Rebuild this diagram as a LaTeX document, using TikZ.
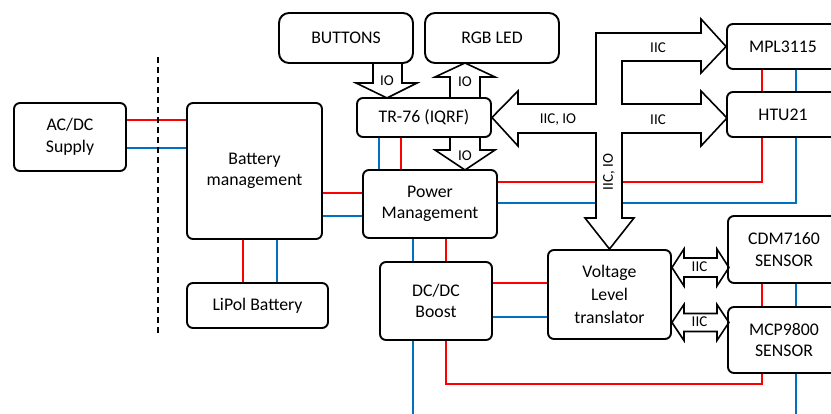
\documentclass[tikz,border=0pt]{standalone}
\usepackage{fontspec}
\setmainfont{Carlito}
\definecolor{pwrred}{RGB}{255,0,0}
\definecolor{gndblue}{RGB}{0,112,192}
\usetikzlibrary{positioning,calc,backgrounds}

\begin{document}
\begin{tikzpicture}[x=1pt,y=-1pt,
  block/.style={draw,line width=1.9pt,rounded corners=6pt,align=center,inner sep=0,
    font=\fontsize{17.75}{21.5}\selectfont},
  pwr/.style={pwrred,line width=1.6pt},
  gnd/.style={gndblue,line width=1.6pt},
  fat/.style={draw,fill=white,line width=1.6pt},
  lbl/.style={font=\fontsize{15}{18}\selectfont,inner sep=0}]
  \useasboundingbox (0,0) rectangle (831,414);
  \clip (0,0) rectangle (831,414);
  % blocks
  \node[block,minimum width=112pt,minimum height=68pt] (acdc) at (70,137) {AC/DC\\Supply};
  \node[block,minimum width=135pt,minimum height=136pt] (batt) at (254.5,171) {Battery\\management};
  \node[block,minimum width=141pt,minimum height=45pt] (lipo) at (257.5,305.5) {LiPol Battery};
  \node[block,rounded corners=10pt,minimum width=134pt,minimum height=50pt] (btn) at (346,38) {BUTTONS};
  \node[block,rounded corners=10pt,minimum width=134pt,minimum height=50pt] (rgb) at (492,38) {RGB LED};
  \node[block,minimum width=134pt,minimum height=39pt] (tr) at (424,117.5) {TR-76 (IQRF)};
  \node[block,minimum width=134pt,minimum height=68pt] (pm) at (430,204) {Power\\Management};
  \node[block,minimum width=112pt,minimum height=78pt] (dcdc) at (436,301) {DC/DC\\Boost};
  \node[block,minimum width=123pt,minimum height=89pt,font=\fontsize{17.75}{23}\selectfont] (vlt) at (609.5,294.5) {Voltage\\Level\\translator};
  \node[block,minimum width=112pt,minimum height=45pt] (mpl) at (783,46.5) {MPL3115};
  \node[block,minimum width=112pt,minimum height=45pt] (htu) at (783,114.5) {HTU21};
  \node[block,minimum width=112pt,minimum height=67pt] (cdm) at (784,249.5) {CDM7160\\SENSOR};
  \node[block,minimum width=112pt,minimum height=66pt] (mcp) at (784,340) {MCP9800\\SENSOR};
  \coordinate (outA) at (413,420);
  \coordinate (outB) at (796,420);
  % separator
  \draw[line width=2.4pt,dash pattern=on 6.5pt off 3.5pt] (158,57) -- (158,334);
  \begin{scope}[on background layer]
    % supply rails
    \draw[pwr] (acdc.east |- 0,120) -- (batt.west |- 0,120);
    \draw[gnd] (acdc.east |- 0,148) -- (batt.west |- 0,148);
    \draw[pwr] (batt.south -| 243,0) -- (lipo.north -| 243,0);
    \draw[gnd] (batt.south -| 277,0) -- (lipo.north -| 277,0);
    \draw[pwr] (batt.east |- 0,193) -- (pm.west |- 0,193);
    \draw[gnd] (batt.east |- 0,216) -- (pm.west |- 0,216);
    \draw[gnd] (tr.south -| 379,0) -- (pm.north -| 379,0);
    \draw[pwr] (tr.south -| 401,0) -- (pm.north -| 401,0);
    \draw[gnd] (pm.south -| 413,0) -- (dcdc.north -| 413,0);
    \draw[pwr] (pm.south -| 446,0) -- (dcdc.north -| 446,0);
    \draw[pwr] (dcdc.east |- 0,283) -- (vlt.west |- 0,283);
    \draw[gnd] (dcdc.east |- 0,317) -- (vlt.west |- 0,317);
    \draw[pwr] (pm.east |- 0,182) -| (htu.south -| 762,0);
    \draw[gnd] (pm.east |- 0,203) -| (htu.south -| 796,0);
    \draw[pwr] (mpl.south -| 762,0) -- (htu.north -| 762,0);
    \draw[gnd] (mpl.south -| 796,0) -- (htu.north -| 796,0);
    \draw[pwr] (cdm.south -| 762,0) -- (mcp.north -| 762,0);
    \draw[gnd] (cdm.south -| 796,0) -- (mcp.north -| 796,0);
    \draw[gnd] (dcdc.south -| 413,0) -- (outA);
    \draw[pwr] (dcdc.south -| 446,0) |- (762,384) -- (mcp.south -| 762,0);
    \draw[gnd] (mcp.south -| 796,0) -- (outB);
    % IO arrows
    \draw[fat] (373,63) -- (373,83) -- (356,83) -- (387,98) -- (417,83) -- (402,83) -- (402,63);
    \draw[fat] (450,98) -- (450,77) -- (435,77) -- (465,63) -- (495,77) -- (480,77) -- (480,98);
    \draw[fat] (450,137) -- (450,150) -- (435,150) -- (465,170) -- (495,150) -- (480,150) -- (480,137);
    % IIC bus
    \draw[fat] (tr.east) -- (518,91) -- (518,104) -- (596,104) -- (596,33) -- (701,33) -- (701,19)
      -- (mpl.west) -- (701,73) -- (701,61) -- (622,61) -- (622,104) -- (701,104) -- (701,91)
      -- (727,118) -- (701,146) -- (701,133) -- (622,133) -- (622,218) -- (634,218)
      -- (vlt.north) -- (585,218) -- (596,218) -- (596,133) -- (518,133) -- (518,146) -- cycle;
    \draw[fat] (vlt.east |- 0,267.5) -- ++(12,-18.5) -- ++(0,9) -- ++(33,0) -- ++(0,-9) -- ++(12,18.5)
      -- ++(-12,18.5) -- ++(0,-9) -- ++(-33,0) -- ++(0,9) -- cycle;
    \draw[fat] (vlt.east |- 0,322.5) -- ++(12,-18) -- ++(0,9) -- ++(33,0) -- ++(0,-9) -- ++(12,18)
      -- ++(-12,18) -- ++(0,-9) -- ++(-33,0) -- ++(0,9) -- cycle;
  \end{scope}
  % bus labels
  \node[lbl] (ioBtn) at (387,81) {IO};
  \node[lbl] (ioRgb) at (465,82) {IO};
  \node[lbl] (ioPm) at (465,156) {IO};
  \node[lbl] (busTr) at (558,120) {IIC, IO};
  \node[lbl] (busMpl) at (658,48) {IIC};
  \node[lbl] (busHtu) at (658,120) {IIC};
  \node[lbl,rotate=90] (busVlt) at (609,172) {IIC, IO};
  \node[lbl] (busCdm) at (699.5,267) {IIC};
  \node[lbl] (busMcp) at (699.5,322) {IIC};
\end{tikzpicture}
\end{document}
